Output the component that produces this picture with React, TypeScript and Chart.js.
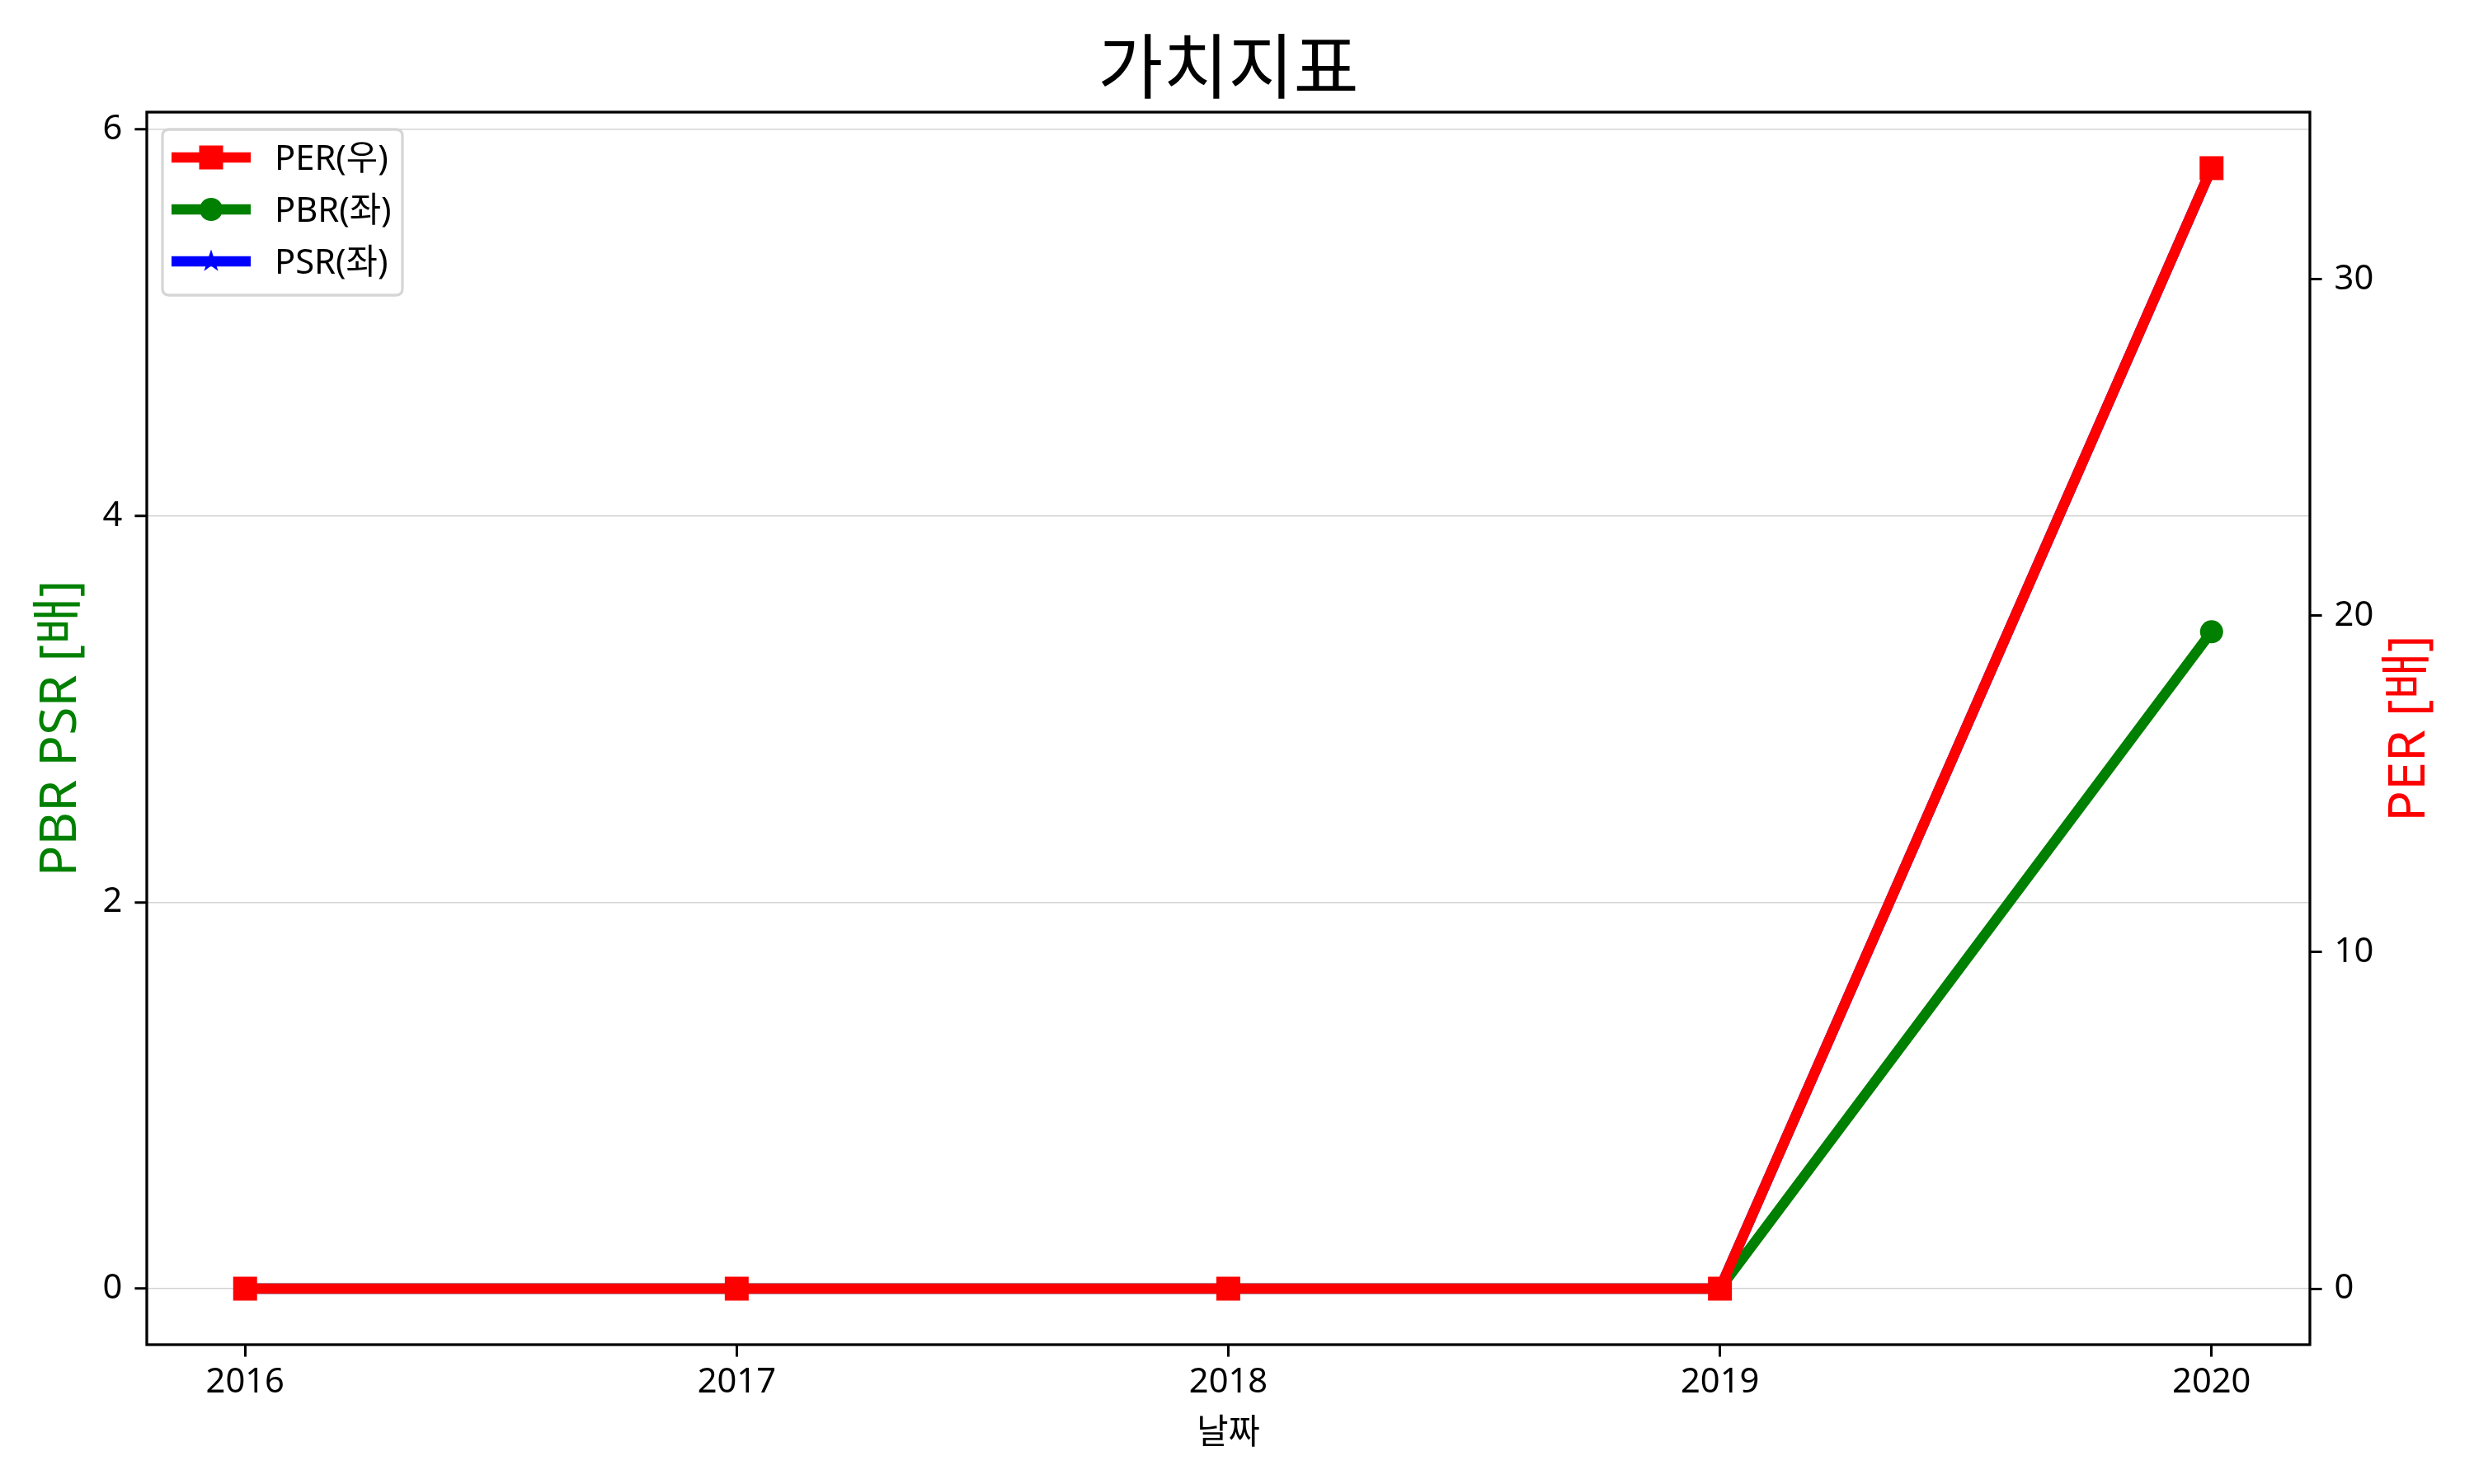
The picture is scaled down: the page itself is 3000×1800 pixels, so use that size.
import React, { useEffect, useRef } from "react";
import { Chart, registerables } from "chart.js";

Chart.register(...registerables);

// ---- data ----
const years = [2016, 2017, 2018, 2019, 2020];
const perValues = [0, 0, 0, 0, 33.3];
const pbrValues = [0, 0, 0, 0, 3.4];
const psrValues = [0, 0, 0, 0, 5.8];
const leftTicks = [0, 2, 4, 6];
const rightTicks = [0, 10, 20, 30];
const seriesLabels = ["PER(우)", "PBR(좌)", "PSR(좌)"];
const titleText = "가치지표";
const xLabelText = "날짜";
const leftLabelText = "PBR PSR [배]";
const rightLabelText = "PER [배]";

const FONT = '"Noto Sans", "Noto Sans CJK KR", sans-serif';
const KFONT = '"Noto Sans CJK KR", "Noto Sans", sans-serif';
const RED = "#ff0000";
const GREEN = "#008000";
const BLUE = "#0000ff";

function drawStar(ctx: CanvasRenderingContext2D, cx: number, cy: number, r: number, color: string) {
  const inner = r * 0.381966;
  ctx.beginPath();
  for (let i = 0; i < 10; i++) {
    const rad = i % 2 === 0 ? r : inner;
    const a = -Math.PI / 2 + (i * Math.PI) / 5;
    const x = cx + rad * Math.cos(a);
    const y = cy + rad * Math.sin(a);
    if (i === 0) ctx.moveTo(x, y);
    else ctx.lineTo(x, y);
  }
  ctx.closePath();
  ctx.fillStyle = color;
  ctx.fill();
}

function makeStarCanvas(): HTMLCanvasElement {
  const c = document.createElement("canvas");
  c.width = 32;
  c.height = 32;
  const ctx = c.getContext("2d")!;
  drawStar(ctx, 16, 16, 14.6, BLUE);
  return c;
}

const decorPlugin = {
  id: "decor",
  afterDraw(chart: any) {
    const ctx: CanvasRenderingContext2D = chart.ctx;
    const a = chart.chartArea;
    ctx.save();
    // spines
    ctx.strokeStyle = "#000";
    ctx.lineWidth = 3.3;
    ctx.strokeRect(a.left, a.top, a.right - a.left, a.bottom - a.top);

    const cx = (a.left + a.right) / 2;
    // title
    ctx.fillStyle = "#000";
    ctx.textAlign = "center";
    ctx.textBaseline = "alphabetic";
    ctx.font = `86px ${KFONT}`;
    ctx.fillText(titleText, cx, 113);
    // x label
    ctx.font = `41.7px ${KFONT}`;
    ctx.fillText(xLabelText, cx, 1751);
    // left y label
    const cy = (a.top + a.bottom) / 2;
    ctx.save();
    ctx.translate(92, cy);
    ctx.rotate(-Math.PI / 2);
    ctx.fillStyle = GREEN;
    ctx.font = `62.5px ${FONT}`;
    ctx.fillText(leftLabelText, 0, 0);
    ctx.restore();
    // right y label
    ctx.save();
    ctx.translate(2940, cy);
    ctx.rotate(-Math.PI / 2);
    ctx.fillStyle = RED;
    ctx.font = `62.5px ${FONT}`;
    ctx.fillText(rightLabelText, 0, 0);
    ctx.restore();

    // legend
    const bx = 197, by = 157, bw = 291, bh = 201, br = 8;
    ctx.beginPath();
    ctx.moveTo(bx + br, by);
    ctx.lineTo(bx + bw - br, by);
    ctx.quadraticCurveTo(bx + bw, by, bx + bw, by + br);
    ctx.lineTo(bx + bw, by + bh - br);
    ctx.quadraticCurveTo(bx + bw, by + bh, bx + bw - br, by + bh);
    ctx.lineTo(bx + br, by + bh);
    ctx.quadraticCurveTo(bx, by + bh, bx, by + bh - br);
    ctx.lineTo(bx, by + br);
    ctx.quadraticCurveTo(bx, by, bx + br, by);
    ctx.closePath();
    ctx.fillStyle = "rgba(255,255,255,0.8)";
    ctx.fill();
    ctx.strokeStyle = "#d6d6d6";
    ctx.lineWidth = 3.3;
    ctx.stroke();

    const rows = [191, 254, 317];
    const colors = [RED, GREEN, BLUE];
    const lx0 = 208, lx1 = 304, mx = 256;
    rows.forEach((ry, i) => {
      ctx.strokeStyle = colors[i];
      ctx.lineWidth = 12.5;
      ctx.lineCap = "butt";
      ctx.beginPath();
      ctx.moveTo(lx0, ry);
      ctx.lineTo(lx1, ry);
      ctx.stroke();
      ctx.fillStyle = colors[i];
      if (i === 0) {
        ctx.fillRect(mx - 14.5, ry - 14.5, 29, 29);
      } else if (i === 1) {
        ctx.beginPath();
        ctx.arc(mx, ry, 14, 0, Math.PI * 2);
        ctx.fill();
      } else {
        drawStar(ctx, mx, ry, 14.6, BLUE);
      }
      ctx.fillStyle = "#000";
      ctx.textAlign = "left";
      ctx.textBaseline = "alphabetic";
      ctx.font = `41.7px ${FONT}`;
      ctx.fillText(seriesLabels[i], 333, ry + 15);
    });
    ctx.restore();
  },
};

export default function App() {
  const ref = useRef<HTMLCanvasElement | null>(null);
  useEffect(() => {
    if (!ref.current) return;
    const leftMax = Math.max(...pbrValues, ...psrValues);
    const rightMax = Math.max(...perValues);
    const xMin = years[0] - 0.05 * (years[years.length - 1] - years[0]);
    const xMax = years[years.length - 1] + 0.05 * (years[years.length - 1] - years[0]);
    const starCanvas = makeStarCanvas();
    const tickFont = { family: FONT, size: 41.7 };
    const chart = new Chart(ref.current, {
      type: "line",
      data: {
        datasets: [
          {
            label: seriesLabels[0],
            data: years.map((y, i) => ({ x: y, y: perValues[i] })),
            yAxisID: "yR",
            borderColor: RED,
            backgroundColor: RED,
            borderWidth: 12.5,
            borderJoinStyle: "round",
            pointStyle: "rect",
            pointRadius: 20.5,
            pointBorderWidth: 0,
            pointBackgroundColor: RED,
            tension: 0,
            order: 0,
          },
          {
            label: seriesLabels[1],
            data: years.map((y, i) => ({ x: y, y: pbrValues[i] })),
            yAxisID: "y",
            borderColor: GREEN,
            backgroundColor: GREEN,
            borderWidth: 12.5,
            borderJoinStyle: "round",
            pointStyle: "circle",
            pointRadius: 14,
            pointBorderWidth: 0,
            pointBackgroundColor: GREEN,
            tension: 0,
            order: 1,
          },
          {
            label: seriesLabels[2],
            data: years.map((y, i) => ({ x: y, y: psrValues[i] })),
            yAxisID: "y",
            borderColor: BLUE,
            backgroundColor: BLUE,
            borderWidth: 12.5,
            borderJoinStyle: "round",
            pointStyle: starCanvas as any,
            pointRadius: 15,
            pointBorderWidth: 0,
            tension: 0,
            order: 2,
          },
        ],
      },
      options: {
        responsive: false,
        animation: false,
        devicePixelRatio: 1,
        layout: { padding: { top: 136, left: 0, right: 0, bottom: 0 } },
        plugins: {
          legend: { display: false },
          tooltip: { enabled: false },
          title: { display: false },
        },
        scales: {
          x: {
            type: "linear",
            position: "bottom",
            min: xMin,
            max: xMax,
            afterBuildTicks: (s: any) => {
              s.ticks = years.map((v) => ({ value: v }));
            },
            afterFit: (s: any) => {
              s.height = 169;
            },
            ticks: {
              callback: (v: any) => String(v),
              font: tickFont,
              color: "#000",
              padding: 6,
              autoSkip: false,
              maxRotation: 0,
            },
            grid: {
              drawOnChartArea: false,
              drawTicks: true,
              tickLength: 14.6,
              tickColor: "#000",
              tickWidth: 3,
            },
            border: { display: false },
          },
          y: {
            type: "linear",
            position: "left",
            min: -0.05 * leftMax,
            max: 1.05 * leftMax,
            afterBuildTicks: (s: any) => {
              s.ticks = leftTicks.map((v) => ({ value: v }));
            },
            afterFit: (s: any) => {
              s.width = 178;
            },
            ticks: {
              callback: (v: any) => String(v),
              font: tickFont,
              color: "#000",
              padding: 15,
            },
            grid: {
              drawOnChartArea: true,
              color: "#d3d3d3",
              lineWidth: 1.5,
              drawTicks: true,
              tickLength: 14.6,
              tickColor: "#000",
              tickWidth: 3,
            },
            border: { display: false },
          },
          yR: {
            type: "linear",
            position: "right",
            min: -0.05 * rightMax,
            max: 1.05 * rightMax,
            afterBuildTicks: (s: any) => {
              s.ticks = rightTicks.map((v) => ({ value: v }));
            },
            afterFit: (s: any) => {
              s.width = 199;
            },
            ticks: {
              callback: (v: any) => String(v),
              font: tickFont,
              color: "#000",
              padding: 15,
            },
            grid: {
              drawOnChartArea: false,
              drawTicks: true,
              tickLength: 14.6,
              tickColor: "#000",
              tickWidth: 3,
            },
            border: { display: false },
          },
        },
      } as any,
      plugins: [decorPlugin],
    });
    return () => chart.destroy();
  }, []);
  return (
    <div style={{ position: "absolute", left: 0, top: 0, width: 3000, height: 1800, background: "#fff" }}>
      <canvas ref={ref} width={3000} height={1800} style={{ width: 3000, height: 1800, display: "block" }} />
    </div>
  );
}
